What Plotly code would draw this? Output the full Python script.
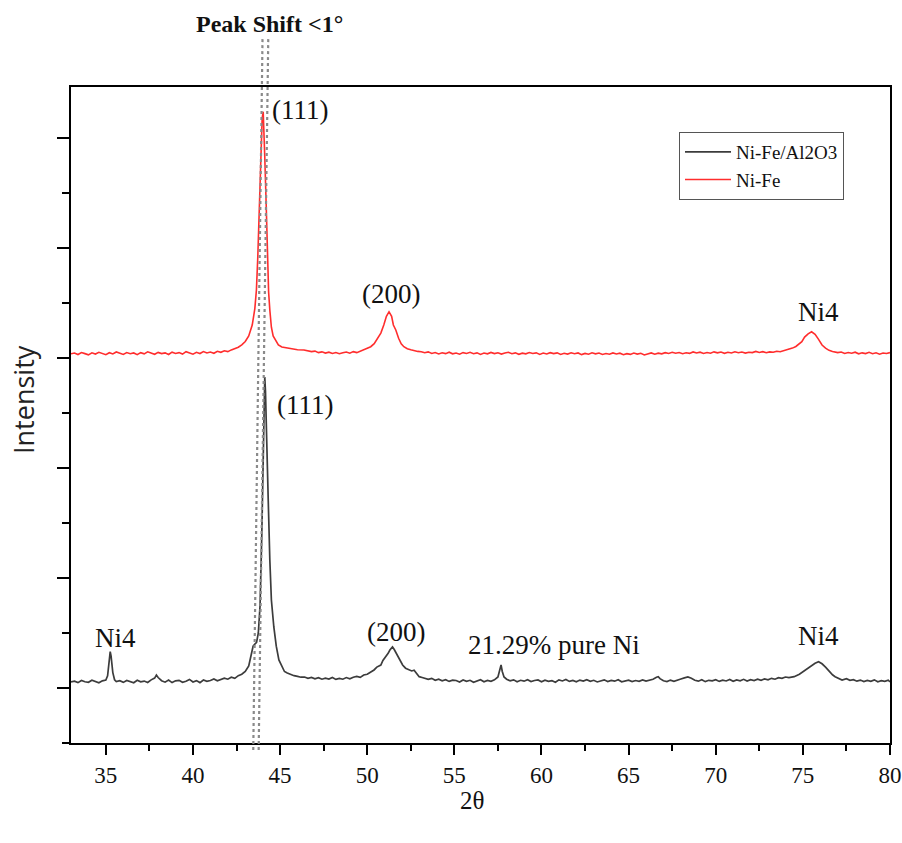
import plotly.graph_objects as go

# ---------------- data ----------------
black_2theta = [
    33.0, 33.2, 33.4, 33.6, 33.8, 34.0, 34.2, 34.4, 34.6, 34.8, 35.0, 35.1, 35.2, 35.25, 35.3, 35.4, 35.5, 35.6,
    35.8, 36.0, 36.2, 36.4, 36.6, 36.8, 37.0, 37.2, 37.4, 37.6, 37.8, 37.9, 38.0, 38.2, 38.4, 38.6, 38.8, 39.0,
    39.2, 39.4, 39.6, 39.8, 40.0, 40.2, 40.4, 40.6, 40.8, 41.0, 41.2, 41.4, 41.6, 41.8, 42.0, 42.2, 42.4, 42.6,
    42.8, 43.0, 43.2, 43.35, 43.45, 43.55, 43.65, 43.75, 43.85, 43.95, 44.03, 44.08, 44.12, 44.16, 44.2, 44.26,
    44.32, 44.41, 44.5, 44.64, 44.78, 44.93, 45.1, 45.25, 45.41, 45.6, 45.8, 46.0, 46.2, 46.4, 46.6, 46.8, 47.0,
    47.2, 47.4, 47.6, 47.8, 48.0, 48.2, 48.4, 48.6, 48.8, 49.0, 49.2, 49.4, 49.6, 49.8, 50.0, 50.2, 50.39, 50.55,
    50.78, 50.9, 51.07, 51.2, 51.3, 51.45, 51.55, 51.65, 51.74, 51.88, 52.03, 52.2, 52.41, 52.55, 52.69, 52.82,
    52.98, 53.15, 53.3, 53.5, 53.7, 53.9,
    54.1, 54.3, 54.5, 54.7, 54.9, 55.1, 55.3, 55.5, 55.7, 55.9, 56.1, 56.3, 56.5, 56.7, 56.9, 57.1, 57.3, 57.5,
    57.6, 57.68, 57.75, 57.85, 58.0, 58.2, 58.4, 58.6, 58.8, 59.0, 59.2, 59.4, 59.6, 59.8, 60.0, 60.2, 60.4, 60.6,
    60.8, 61.0, 61.2, 61.4, 61.6, 61.8, 62.0, 62.2, 62.4, 62.6, 62.8, 63.0, 63.2, 63.4, 63.6, 63.8, 64.0, 64.2,
    64.4, 64.6, 64.8, 65.0, 65.2, 65.4, 65.6, 65.8, 66.0, 66.2, 66.4, 66.6, 66.7, 66.8, 67.0, 67.2, 67.4, 67.6,
    67.8, 68.0, 68.2, 68.4, 68.6, 68.8, 69.0, 69.2, 69.4, 69.6, 69.8, 70.0, 70.2, 70.4, 70.6, 70.8, 71.0, 71.2,
    71.4, 71.6, 71.8, 72.0, 72.2, 72.4, 72.6, 72.8, 73.0, 73.2, 73.4, 73.6, 73.8, 74.0, 74.2, 74.5, 74.8, 75.1,
    75.3, 75.5, 75.7, 75.9, 76.1, 76.3, 76.5, 76.7, 76.85, 77.05, 77.25, 77.5, 77.7, 77.9, 78.1, 78.3,
    78.5, 78.7, 78.9, 79.1, 79.3, 79.5, 79.7, 79.9, 80.0,
]
black_intensity = [
    556, 562, 549, 568, 557, 552, 570, 559, 547, 565, 572, 610, 760, 830, 790, 640, 575, 558,
    566, 551, 569, 560, 548, 571, 556, 563, 550, 574, 590, 618, 595, 566, 553, 572, 549, 565,
    570, 552, 561, 578, 555, 567, 549, 573, 560, 568, 582, 565, 576, 590, 580, 598, 588, 612,
    625, 650, 700, 820, 880, 900, 915, 1000, 1250, 1900, 2573, 3000, 3327, 3200, 2900, 2636,
    2200, 1664, 1300, 1055, 880, 755, 690, 650, 636, 622, 612, 605, 598, 600, 588, 596, 584,
    594, 580, 590, 582, 596, 578, 588, 580, 595, 584, 598, 605, 596, 618, 625, 645, 664, 690,
    709, 750, 785, 815, 845, 873, 850, 820, 800, 755, 709, 680, 664, 655, 662, 630,
    603, 595, 585, 578, 588, 570,
    580, 566, 575, 560, 572, 568, 555, 573, 560, 570, 552, 566, 575, 557, 569, 561, 574, 600,
    680, 709, 650, 600, 580, 565, 574, 557, 570, 562, 576, 559, 568, 573, 556, 571, 560, 566,
    553, 574, 564, 578, 560, 569, 556, 572, 563, 576, 561, 570, 555, 567, 574, 558, 569, 562,
    575, 557, 566, 571, 559, 568, 561, 574, 563, 570, 580, 598, 603, 585, 566, 558, 572, 561,
    575, 582, 592, 600, 588, 570, 562, 576, 558, 570, 565, 576, 560, 571, 564, 578, 561, 573,
    566, 579, 563, 575, 568, 580, 570, 583, 575, 588, 580, 594, 588, 600, 595, 603, 625, 660,
    682, 705, 725, 739, 720, 690, 650, 620, 603, 585, 573, 585, 570, 576, 562, 572,
    558, 569, 561, 574, 557, 566, 560, 571, 556,
]

red_2theta = [
    33.0, 33.2, 33.4, 33.6, 33.8, 34.0, 34.2, 34.4, 34.6, 34.8, 35.0, 35.2, 35.4, 35.6, 35.8, 36.0, 36.2, 36.4,
    36.6, 36.8, 37.0, 37.2, 37.4, 37.6, 37.8, 38.0, 38.2, 38.4, 38.6, 38.8, 39.0, 39.2, 39.4, 39.6, 39.8, 40.0,
    40.2, 40.4, 40.6, 40.8, 41.0, 41.2, 41.4, 41.6, 41.8, 42.0, 42.2, 42.4, 42.6, 42.8, 43.0, 43.2, 43.4, 43.55,
    43.64, 43.72, 43.78, 43.85, 43.91, 43.97, 44.03, 44.08, 44.12, 44.2, 44.26, 44.34, 44.41, 44.5, 44.6, 44.74,
    44.9, 45.1, 45.41, 45.7, 46.0, 46.37, 46.6, 46.8, 47.0, 47.2, 47.4, 47.6, 47.8, 48.0, 48.2, 48.4, 48.6, 48.8,
    49.0, 49.2, 49.4, 49.6, 49.8, 50.0, 50.2, 50.4, 50.6, 50.78, 50.95, 51.1, 51.25, 51.4, 51.5, 51.64, 51.8,
    51.95, 52.1, 52.3, 52.5, 52.7, 52.9, 53.1, 53.3, 53.5, 53.7, 53.9, 54.1, 54.3, 54.5, 54.7, 54.9, 55.1, 55.3,
    55.5, 55.7, 55.9, 56.1, 56.3, 56.5, 56.7, 56.9, 57.1, 57.3, 57.5, 57.7, 57.9, 58.1, 58.3, 58.5, 58.7, 58.9,
    59.1, 59.3, 59.5, 59.7, 59.9, 60.1, 60.3, 60.5, 60.7, 60.9, 61.1, 61.3, 61.5, 61.7, 61.9, 62.1, 62.3, 62.5,
    62.7, 62.9, 63.1, 63.3, 63.5, 63.7, 63.9, 64.1, 64.3, 64.5, 64.7, 64.9, 65.1, 65.3, 65.5, 65.7, 65.9, 66.1,
    66.3, 66.5, 66.7, 66.9, 67.1, 67.3, 67.5, 67.7, 67.9, 68.1, 68.3, 68.5, 68.7, 68.9, 69.1, 69.3, 69.5, 69.7,
    69.9, 70.1, 70.3, 70.5, 70.7, 70.9, 71.1, 71.3, 71.5, 71.7, 71.9, 72.1, 72.3, 72.5, 72.7, 72.9, 73.1, 73.3,
    73.5, 73.7, 73.9, 74.1, 74.3, 74.4, 74.6, 74.8, 74.94, 75.1, 75.3, 75.5, 75.7, 75.9, 76.1, 76.3, 76.5, 76.7,
    76.85, 77.0, 77.2, 77.4, 77.6, 77.8, 78.0, 78.2, 78.4, 78.6, 78.8, 79.0, 79.2, 79.4, 79.6, 79.8, 80.0,
]
red_intensity = [
    3538, 3545, 3532, 3550, 3540, 3529, 3547, 3536, 3552, 3541, 3530, 3548, 3537, 3555, 3542, 3533, 3550, 3539,
    3546, 3531, 3549, 3538, 3556, 3543, 3534, 3551, 3540, 3547, 3532, 3553, 3541, 3549, 3536, 3558, 3544, 3535,
    3552, 3541, 3559, 3546, 3554, 3543, 3561, 3552, 3566, 3558, 3574, 3585, 3598, 3620, 3650, 3700, 3800, 3950,
    4118, 4421, 4727, 5100, 5482, 5680, 5739, 5550, 5330, 4900, 4421, 4100, 3936, 3780, 3700, 3664,
    3620, 3600, 3591, 3580, 3575, 3573, 3566, 3558, 3563, 3549, 3556, 3545, 3553, 3541, 3550, 3539, 3548, 3555,
    3544, 3558, 3549, 3562, 3570, 3585, 3603, 3630, 3680, 3727, 3800, 3880, 3921, 3880, 3800, 3755, 3680,
    3630, 3603, 3585, 3576, 3566, 3560, 3557, 3548, 3556, 3541, 3550, 3537, 3548, 3540, 3553, 3538, 3546, 3535,
    3549, 3541, 3552, 3539, 3547, 3533, 3545, 3538, 3551, 3540, 3548, 3536, 3546, 3552, 3539, 3547, 3534, 3544,
    3538, 3550, 3541, 3547, 3533, 3545, 3537, 3549, 3540, 3547, 3532, 3543, 3536, 3548, 3539, 3546, 3531, 3542,
    3535, 3547, 3538, 3545, 3532, 3541, 3534, 3546, 3537, 3544, 3530, 3540, 3533, 3545, 3536, 3543, 3528, 3539,
    3546, 3535, 3544, 3538, 3549, 3541, 3552, 3543, 3550, 3539, 3548, 3542, 3555, 3546, 3553, 3541, 3550, 3544,
    3556, 3547, 3554, 3543, 3552, 3546, 3557, 3548, 3555, 3545, 3553, 3549, 3560, 3551, 3558, 3548, 3556, 3552,
    3562, 3557, 3566, 3570, 3580, 3590, 3605, 3630, 3648, 3690, 3720, 3739, 3715, 3670, 3618, 3590, 3570, 3560,
    3557, 3549, 3555, 3541, 3550, 3544, 3553, 3538, 3547, 3540, 3552, 3539, 3548, 3535, 3546, 3541, 3549,
]

x_tick_vals = [35, 40, 45, 50, 55, 60, 65, 70, 75, 80]

peak_labels = ["(111)", "(111)", "(200)", "(200)", "Ni4", "Ni4", "Ni4", "21.29% pure Ni"]
peak_label_x = [46.15, 46.41, 51.35, 51.64, 75.87, 35.53, 75.92, 60.73]
peak_label_y = [5755, 3073, 4082, 1009, 3918, 955, 973, 891]

shift_line_x_top = [43.99, 44.32]
shift_line_x_bottom = [43.46, 43.77]

# ---------------- figure ----------------
SERIF = "Liberation Serif, Times New Roman, serif"
PL, PT, PW, PH = 71, 87, 819, 656   # plot-area geometry in pixels


def px_to_paper(px, py):
    return (px - PL) / PW, (PT + PH - py) / PH


fig = go.Figure()
fig.add_trace(go.Scatter(
    x=black_2theta, y=black_intensity, mode="lines", name="Ni-Fe/Al2O3",
    line=dict(color="#3c3c3c", width=1.7),
))
fig.add_trace(go.Scatter(
    x=red_2theta, y=red_intensity, mode="lines", name="Ni-Fe",
    line=dict(color="#ff2d2d", width=1.6),
))

for xt, xb in zip(shift_line_x_top, shift_line_x_bottom):
    fig.add_shape(type="line", xref="x", yref="paper", x0=xt, y0=1.073, x1=xb, y1=-0.011,
                  line=dict(color="#8a8a8a", width=2.2, dash="dot"), layer="above")

for txt, xv, yv in zip(peak_labels, peak_label_x, peak_label_y):
    fig.add_annotation(x=xv, y=yv, xref="x", yref="y", text=txt, showarrow=False,
                       xanchor="center", yanchor="middle",
                       font=dict(family=SERIF, size=27, color="#111111"))

ax, ay = px_to_paper(269, 24)
fig.add_annotation(x=ax, y=ay, xref="paper", yref="paper",
                   text="<b>Peak Shift &lt;1°</b>", showarrow=False,
                   xanchor="center", yanchor="middle",
                   font=dict(family=SERIF, size=24, color="#111111"))
ax, ay = px_to_paper(472, 800)
fig.add_annotation(x=ax, y=ay, xref="paper", yref="paper",
                   text="2θ", showarrow=False, xanchor="center", yanchor="middle",
                   font=dict(family=SERIF, size=25, color="#111111"))
ax, ay = px_to_paper(23, 400)
fig.add_annotation(x=ax, y=ay, xref="paper", yref="paper",
                   text="Intensity", showarrow=False, textangle=-90,
                   xanchor="center", yanchor="middle",
                   font=dict(family="Open Sans, sans-serif", size=27, color="#222222"))

lx, ly = px_to_paper(679, 132)
fig.update_layout(
    template="none",
    width=902, height=843,
    margin=dict(l=PL, r=902 - PL - PW, t=PT, b=843 - PT - PH, autoexpand=False),
    paper_bgcolor="white", plot_bgcolor="white",
    showlegend=True,
    legend=dict(x=lx, y=ly, xanchor="left", yanchor="top",
                bgcolor="white", bordercolor="#555555", borderwidth=1,
                font=dict(family=SERIF, size=19, color="#111111"),
                itemwidth=46, tracegroupgap=0),
)
fig.update_xaxes(
    range=[33, 80], showgrid=False, zeroline=False, automargin=False,
    showline=True, linecolor="black", linewidth=2, mirror=True,
    tickmode="array", tickvals=x_tick_vals,
    ticks="outside", ticklen=10, tickwidth=2, tickcolor="black",
    tickfont=dict(family=SERIF, size=23, color="#111111"),
    minor=dict(ticks="outside", ticklen=6, tickwidth=2, tickcolor="black", dtick=2.5, tick0=32.5),
)
fig.update_yaxes(
    range=[0, 5964], showgrid=False, zeroline=False, automargin=False,
    showline=True, linecolor="black", linewidth=2, mirror=True,
    tickmode="linear", tick0=500, dtick=1000, showticklabels=False,
    ticks="outside", ticklen=12, tickwidth=2, tickcolor="black",
    minor=dict(ticks="outside", ticklen=7, tickwidth=2, tickcolor="black", dtick=500, tick0=0),
)

fig.write_html(
    "out.html",
    config={"displayModeBar": False},
    post_script="document.body.style.margin='0';document.body.style.overflow='hidden';",
)
